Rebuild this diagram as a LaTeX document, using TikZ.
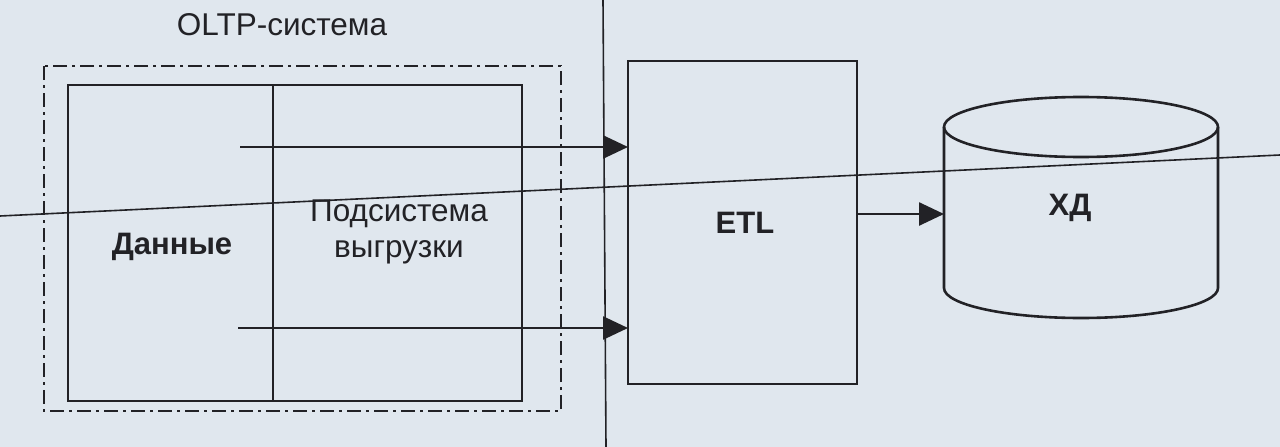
\documentclass[tikz,border=0pt]{standalone}
\usepackage{fontspec}
\setmainfont{Liberation Sans}
\usetikzlibrary{arrows.meta,calc}
\definecolor{bg}{HTML}{E0E7EE}
\definecolor{ink}{HTML}{222226}
\tikzset{
  box/.style={draw=ink, line width=2.6pt, minimum width=0pt, inner sep=0pt, outer sep=0pt, anchor=north west},
  dashbox/.style={draw=ink, line width=2.2pt, dash pattern=on 14pt off 5pt on 3pt off 5pt},
  arr/.style={draw=ink, line width=2.6pt, -{Triangle[length=25pt,width=23pt]}},
  lbl/.style={font=\fontsize{31.5}{36}\selectfont, text=ink, align=center},
  blbl/.style={font=\fontsize{31}{36}\selectfont\bfseries, text=ink, align=center},
  seam/.style={draw=ink, line width=1.6pt}
}
\begin{document}
\begin{tikzpicture}[x=1pt,y=-1pt]
\fill[bg] (0,0) rectangle (1280,447);
\useasboundingbox (0,0) rectangle (1280,447);
% screen seams
\draw[seam] (603,0) -- (606,447);
\draw[seam] (0,216) -- (1280,155);
% OLTP system
\node[lbl] (title) at (282,25) {OLTP-система};
\draw[dashbox] (44,66) rectangle (561,411);
\node[box, minimum width=454pt, minimum height=316pt] (oltp) at (68,85) {};
\draw[draw=ink, line width=2.6pt] (273,85) -- (273,401);
\node[blbl] (data) at (172,247) {Данные};
\node[lbl] (unload) at (399,232) {Подсистема\\выгрузки};
% ETL
\node[box, minimum width=229pt, minimum height=323pt] (etl) at (628,61) {};
\node[blbl] (etltxt) at (745,223) {ETL};
% cylinder
\node[inner sep=0pt, outer sep=0pt, minimum width=274pt, minimum height=161pt, anchor=north west] (cyl) at (944,127) {};
\draw[ink, line width=2.6pt] (1081,127) ellipse[x radius=137pt, y radius=30pt];
\draw[ink, line width=2.6pt] (cyl.north west) -- (cyl.south west) arc[start angle=180, end angle=360, x radius=137pt, y radius=30pt] -- (cyl.north east);
\node[blbl] (xd) at (1070,208) {ХД};
% connectors
\coordinate (s1) at (240,147);
\coordinate (s2) at (238,328);
\coordinate (y3) at (0,214);
\draw[arr] (s1) -- (s1 -| etl.west);
\draw[arr] (s2) -- (s2 -| etl.west);
\draw[arr] (etl.east |- y3) -- (cyl.west |- y3);
\end{tikzpicture}
\end{document}
